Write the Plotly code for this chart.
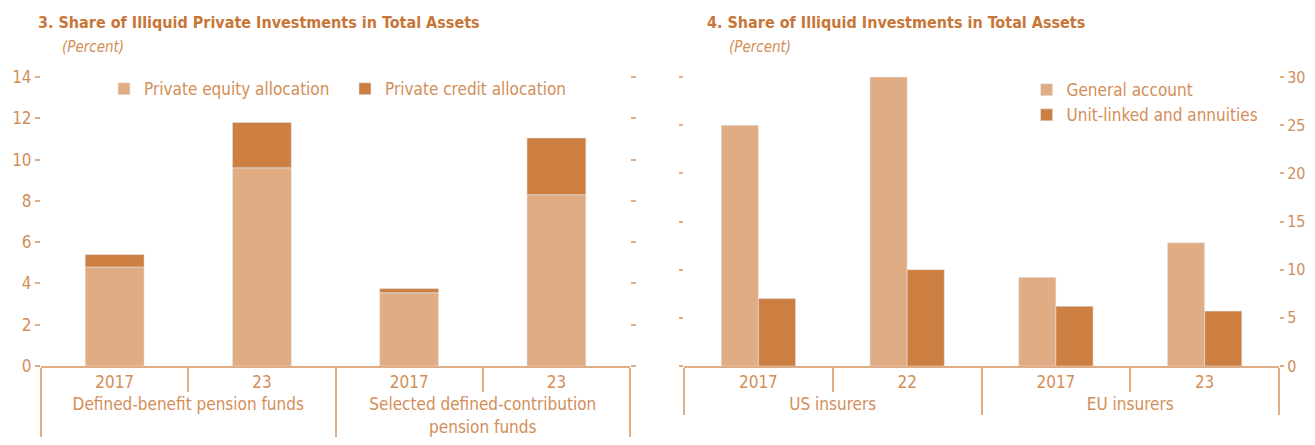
import plotly.graph_objects as go

# ---- data ----
pension_groups = ["Defined-benefit pension funds", "Defined-benefit pension funds",
                  "Selected defined-contribution<br>pension funds", "Selected defined-contribution<br>pension funds"]
pension_years = ["2017", "23", "2017", "23"]
private_equity = [4.8, 9.6, 3.55, 8.3]
private_credit = [0.6, 2.2, 0.2, 2.75]

insurer_groups = ["US insurers", "US insurers", "EU insurers", "EU insurers"]
insurer_years = ["2017", "22", "2017", "23"]
general_account = [25.0, 30.0, 9.2, 12.8]
unit_linked = [7.0, 10.0, 6.2, 5.7]

left_ticks = [0, 2, 4, 6, 8, 10, 12, 14]
right_ticks = [0, 5, 10, 15, 20, 25, 30]

LIGHT = "#DFAC84"
DARK = "#CD7F42"
TXT = "#D38E58"
TITLE = "#C87638"
FONT = "DejaVu Sans Condensed, Liberation Sans Narrow, sans-serif"

fig = go.Figure()

fig.add_trace(go.Bar(x=[pension_groups, pension_years], y=private_equity, name="Private equity allocation",
                     marker_color=LIGHT, width=0.4, offset=-0.2, xaxis="x", yaxis="y", legend="legend"))
fig.add_trace(go.Bar(x=[pension_groups, pension_years], y=private_credit, base=private_equity,
                     name="Private credit allocation", marker_color=DARK, width=0.4, offset=-0.2,
                     xaxis="x", yaxis="y", legend="legend"))

fig.add_trace(go.Bar(x=[insurer_groups, insurer_years], y=general_account, name="General account",
                     marker_color=LIGHT, width=0.25, offset=-0.25, xaxis="x2", yaxis="y2", legend="legend2"))
fig.add_trace(go.Bar(x=[insurer_groups, insurer_years], y=unit_linked, name="Unit-linked and annuities",
                     marker_color=DARK, width=0.25, offset=0.0, xaxis="x2", yaxis="y2", legend="legend2"))

xcommon = dict(type="multicategory", showline=True, linecolor=LIGHT, linewidth=2,
               ticks="outside", ticklen=24, tickcolor=LIGHT, tickwidth=2,
               showdividers=True, dividercolor=LIGHT, dividerwidth=2, automargin=False,
               showgrid=False, zeroline=False, tickfont=dict(size=17, color=TXT, family=FONT))
ycommon = dict(showline=False, showgrid=False, zeroline=False, ticks="outside",
               tickcolor=LIGHT, tickwidth=2, mirror="ticks", automargin=False)

fig.update_layout(
    width=1307, height=429,
    margin=dict(l=33, r=36, t=69, b=71, autoexpand=False),
    paper_bgcolor="white", plot_bgcolor="white",
    barmode="overlay",
    font=dict(family=FONT, color=TXT, size=17),
    xaxis=dict(domain=[0, 0.4758], anchor="y", **xcommon),
    yaxis=dict(range=[0, 14], tickvals=left_ticks, anchor="x", side="left", ticklen=5,
               tickfont=dict(size=17, color=TXT, family=FONT), **ycommon),
    xaxis2=dict(domain=[0.5194, 1], anchor="y2", **xcommon),
    yaxis2=dict(range=[0, 30], tickvals=right_ticks, anchor="x2", side="right", ticklen=4,
                tickfont=dict(size=16, color=TXT, family=FONT), **ycommon),
    legend=dict(orientation="h", x=0.0509, y=0.958, xanchor="left", yanchor="middle",
                bgcolor="rgba(0,0,0,0)", font=dict(size=17, color=TXT, family=FONT),
                entrywidth=196, entrywidthmode="pixels", traceorder="normal"),
    legend2=dict(orientation="v", x=0.7961, y=1.017, xanchor="left", yanchor="top",
                 bgcolor="rgba(0,0,0,0)", font=dict(size=17, color=TXT, family=FONT),
                 tracegroupgap=0, traceorder="normal"),
    showlegend=True,
)

fig.add_annotation(text="<b>3. Share of Illiquid Private Investments in Total Assets</b>",
                   xref="paper", yref="paper", x=-0.0044, y=1.19, xanchor="left", yanchor="middle",
                   showarrow=False, font=dict(size=16, color=TITLE, family=FONT))
fig.add_annotation(text="<i>(Percent)</i>", xref="paper", yref="paper", x=0.0153, y=1.104,
                   xanchor="left", yanchor="middle", showarrow=False,
                   font=dict(size=15, color=TXT, family=FONT))
fig.add_annotation(text="<b>4. Share of Illiquid Investments in Total Assets</b>",
                   xref="paper", yref="paper", x=0.5360, y=1.19, xanchor="left", yanchor="middle",
                   showarrow=False, font=dict(size=16, color=TITLE, family=FONT))
fig.add_annotation(text="<i>(Percent)</i>", xref="paper", yref="paper", x=0.5545, y=1.104,
                   xanchor="left", yanchor="middle", showarrow=False,
                   font=dict(size=15, color=TXT, family=FONT))

fig.write_html("out.html")
